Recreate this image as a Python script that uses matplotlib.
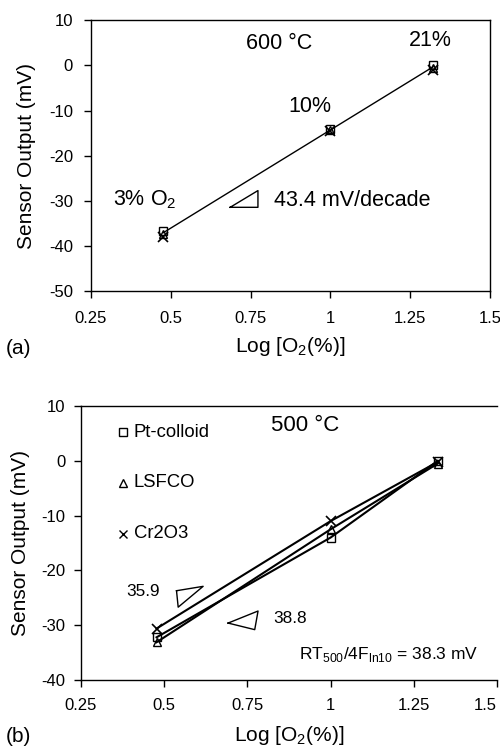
import numpy as np
import matplotlib.pyplot as plt
import matplotlib

matplotlib.rcParams['font.family'] = ['Liberation Sans', 'DejaVu Sans']
matplotlib.rcParams['font.size'] = 12
matplotlib.rcParams['axes.unicode_minus'] = False
matplotlib.rcParams['mathtext.fontset'] = 'custom'
matplotlib.rcParams['mathtext.rm'] = 'Liberation Sans'

# panel (a): 600 C
log_o2_a = [0.477, 1.0, 1.322]
a_square = [-36.7, -14.0, 0.0]
a_triangle = [-37.3, -14.3, -0.6]
a_cross = [-37.9, -14.6, -1.0]
a_fit = [-37.0, -0.3]

# panel (b): 500 C
log_o2_b = [0.477, 1.0, 1.322]
pt_colloid = [-32.2, -14.0, 0.0]
lsfco = [-33.1, -12.5, -0.5]
cr2o3 = [-30.6, -11.0, -0.2]

xticks = [0.25, 0.5, 0.75, 1.0, 1.25, 1.5]
xticklabels = ['0.25', '0.5', '0.75', '1', '1.25', '1.5']

# slope triangles
tri_a = [(0.686, -31.4), (0.773, -31.4), (0.773, -27.7)]
tri_b1 = [(0.537, -23.7), (0.617, -22.9), (0.542, -26.7)]
tri_b2 = [(0.692, -29.6), (0.782, -27.4), (0.772, -30.8)]

fig = plt.figure(figsize=(5, 7.49), dpi=100)
ax1 = fig.add_axes([0.182, 0.611, 0.798, 0.362])
ax2 = fig.add_axes([0.162, 0.092, 0.832, 0.366])


def style(ax, ylim, yticks, xpad, ypad, xlpad, ylpad):
    ax.set_xlim(0.25, 1.5)
    ax.set_ylim(*ylim)
    ax.set_xticks(xticks)
    ax.set_xticklabels(xticklabels)
    ax.set_yticks(yticks)
    ax.tick_params(direction='out', length=5, width=1, labelsize=12)
    ax.tick_params(axis='x', pad=xpad)
    ax.tick_params(axis='y', pad=ypad)
    ax.set_xlabel('Log [O$_2$(%)]', fontsize=15, labelpad=xlpad)
    ax.set_ylabel('Sensor Output (mV)', fontsize=15, labelpad=ylpad)
    for s in ax.spines.values():
        s.set_linewidth(1)


def triangle(ax, pts):
    xs = [p[0] for p in pts] + [pts[0][0]]
    ys = [p[1] for p in pts] + [pts[0][1]]
    ax.plot(xs, ys, 'k-', lw=1)


# ---- (a)
ax1.plot([log_o2_a[0], log_o2_a[-1]], a_fit, 'k-', lw=1)
ax1.plot(log_o2_a, a_square, 'ks', mfc='none', ms=6, mew=1)
ax1.plot(log_o2_a, a_triangle, 'k^', mfc='none', ms=6, mew=1)
ax1.plot(log_o2_a, a_cross, 'kx', ms=7, mew=1.2)
triangle(ax1, tri_a)
style(ax1, (-50, 10), range(-50, 11, 10), 9.5, 8, 6.4, 9)
ax1.text(0.84, 4.8, '600 °C', fontsize=15.5, ha='center', va='center')
ax1.text(1.314, 5.5, '21%', fontsize=15.5, ha='center', va='center')
ax1.text(0.937, -9.2, '10%', fontsize=15.5, ha='center', va='center')
ax1.text(0.32, -29.8, '3% O$_2$', fontsize=15.5, ha='left', va='center')
ax1.text(0.822, -29.8, '43.4 mV/decade', fontsize=15.5, ha='left', va='center')
fig.text(0.012, 0.535, '(a)', fontsize=15, va='center')

# ---- (b)
ax2.plot(log_o2_b, pt_colloid, 'k-', lw=1.5, marker='s', mfc='none', ms=6, mew=1)
ax2.plot(log_o2_b, lsfco, 'k-', lw=1.5, marker='^', mfc='none', ms=6, mew=1)
ax2.plot(log_o2_b, cr2o3, 'k-', lw=1.5, marker='x', ms=7, mew=1.2)
triangle(ax2, tri_b1)
triangle(ax2, tri_b2)
style(ax2, (-40, 10), range(-40, 11, 10), 8, 6, 8, 8)
ax2.spines['right'].set_visible(False)
ax2.get_xticklabels()[-1].set_ha('right')

legend_y = [5.2, -4.0, -13.3]
legend_names = ['Pt-colloid', 'LSFCO', 'Cr2O3']
legend_markers = ['s', '^', 'x']
for y, name, m in zip(legend_y, legend_names, legend_markers):
    ax2.plot([0.377], [y], 'k', marker=m, ls='none', mfc='none', ms=6, mew=1)
    ax2.text(0.408, y, name, fontsize=13.3, ha='left', va='center')

ax2.text(0.922, 6.4, '500 °C', fontsize=16, ha='center', va='center')
ax2.text(0.437, -23.9, '35.9', fontsize=12.4, ha='center', va='center')
ax2.text(0.827, -28.8, '38.8', fontsize=12.4, ha='left', va='center')
ax2.text(0.905, -35.4, 'RT$_{500}$/4F$_{\\mathrm{ln10}}$ = 38.3 mV', fontsize=12.5,
         ha='left', va='center')
fig.text(0.012, 0.017, '(b)', fontsize=15, va='center')

fig.savefig('out.png', dpi=100)
